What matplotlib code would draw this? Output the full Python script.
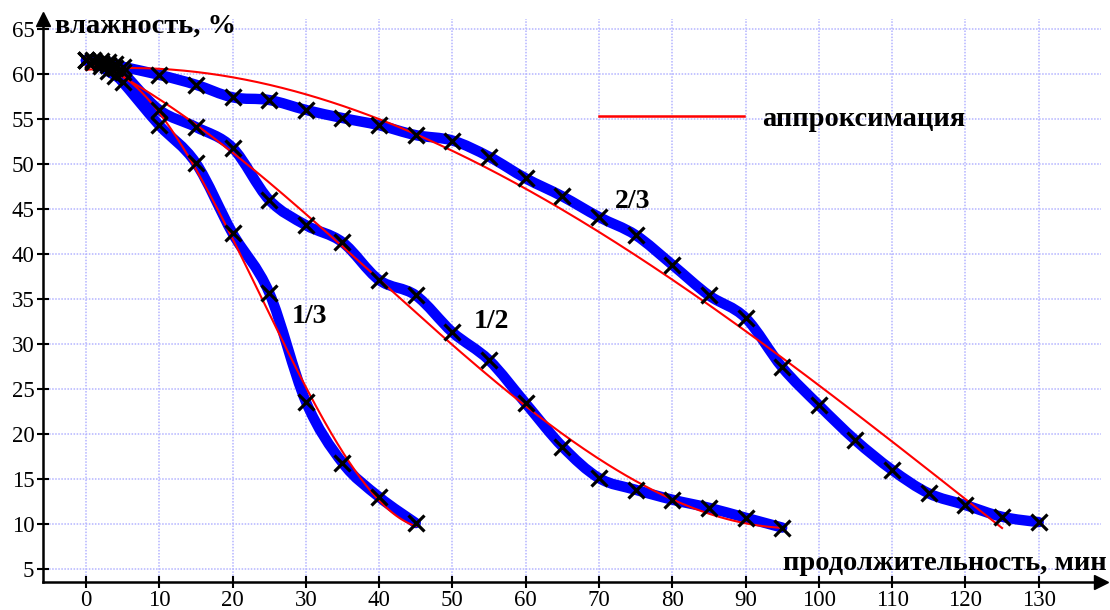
import numpy as np
import matplotlib.pyplot as plt
from matplotlib.path import Path
from matplotlib.patches import PathPatch
from matplotlib.lines import Line2D

plt.rcParams['font.family'] = ['Liberation Serif', 'DejaVu Serif']

# drying time, min / moisture, %  (three load fractions)
t_13 = [0, 1, 2, 3, 4, 5, 10, 15, 20, 25, 30, 35, 40, 45]
w_13 = [61.5, 61.3, 60.9, 60.3, 59.8, 59.1, 54.3, 50.1, 42.3, 35.7, 23.6, 16.8, 13.0, 10.1]

t_12 = [0, 1, 2, 3, 4, 5, 10, 15, 20, 25, 30, 35, 40, 45, 50, 55, 60, 65, 70,
        75, 80, 85, 90, 95]
w_12 = [61.5, 61.4, 61.2, 61.0, 60.7, 60.2, 56.0, 54.1, 51.8, 46.0, 43.2, 41.3,
        37.1, 35.4, 31.3, 28.2, 23.4, 18.6, 15.1, 13.8, 12.7, 11.8, 10.7, 9.6]

t_23 = [0, 1, 2, 3, 4, 5, 10, 15, 20, 25, 30, 35, 40, 45, 50, 55, 60, 65, 70,
        75, 80, 85, 90, 95, 100, 105, 110, 115, 120, 125, 130]
w_23 = [61.5, 61.5, 61.4, 61.3, 61.1, 60.8, 59.9, 58.8, 57.4, 57.1, 56.0, 55.1,
        54.3, 53.2, 52.6, 50.8, 48.4, 46.4, 44.1, 42.1, 38.8, 35.4, 32.9, 27.4,
        23.2, 19.3, 16.0, 13.4, 12.1, 10.8, 10.2]

series = [(t_13, w_13, '1/3'), (t_12, w_12, '1/2'), (t_23, w_23, '2/3')]
approx_end = [45, 95, 125]
label_pos = [(30.5, 33.0), (55.4, 32.5), (74.6, 45.8)]

x_ticks = np.arange(0, 140, 10)
y_ticks = np.arange(5, 70, 5)


def smooth_path(x, y):
    # catmull-rom through the measured points, drawn as bezier
    p = np.column_stack([x, y]).astype(float)
    ext = np.vstack([p[0], p, p[-1]])
    verts = [p[0]]
    codes = [Path.MOVETO]
    for i in range(len(p) - 1):
        a, b, c, d = ext[i], ext[i + 1], ext[i + 2], ext[i + 3]
        verts += [b + (c - a) / 6, c - (d - b) / 6, c]
        codes += [Path.CURVE4] * 3
    return Path(verts, codes)


W, H = 1110, 610
fig = plt.figure(figsize=(W / 100, H / 100), dpi=100)
ax = fig.add_axes([42.7 / W, (H - 582.3) / H, (1101 - 42.7) / W, (582.3 - 19) / H])
ax.set_xlim(-5.9, 138.5)
ax.set_ylim(3.52, 66.1)

for (t, w, name), t_end, pos in zip(series, approx_end, label_pos):
    ax.add_patch(PathPatch(smooth_path(t, w), facecolor='none', edgecolor='#0000ff',
                           lw=7.5, capstyle='round', joinstyle='round', zorder=2))
    coef = np.polyfit(t, w, 3)
    tt = np.linspace(0, t_end, 300)
    ax.plot(tt, np.polyval(coef, tt), color='#ff0000', lw=1.5, zorder=3)
    ax.plot(t, w, linestyle='none', marker='x', color='black', ms=12, mew=2.3, zorder=4)
    ax.text(pos[0], pos[1], name, fontsize=20, fontweight='bold', ha='center', va='center')

ax.set_xticks(x_ticks)
ax.set_yticks(y_ticks)
ax.tick_params(direction='inout', length=8, width=1.5, labelsize=16.5)
ax.tick_params(axis='x', pad=1.5)
ax.tick_params(axis='y', pad=2)
ax.set_axisbelow(True)
ax.grid(color='#b4b4ff', linestyle=(0, (1, 1)), linewidth=1.1)

for s in ['top', 'right']:
    ax.spines[s].set_visible(False)
for s in ['left', 'bottom']:
    ax.spines[s].set_linewidth(1.8)
ax.plot(1, 0, '>k', ms=10, transform=ax.transAxes, clip_on=False)
ax.plot(0, 1, '^k', ms=10, transform=ax.transAxes, clip_on=False)

ax.text(-4.2, 64.55, 'влажность, %', fontsize=20.5, fontweight='bold',
        ha='left', va='baseline')
ax.text(139.3, 4.9, 'продолжительность, мин', fontsize=20.5, fontweight='bold',
        ha='right', va='baseline', clip_on=False)

handle = Line2D([], [], color='#ff0000', lw=1.8)
ax.legend([handle], ['аппроксимация'], loc='center left', bbox_to_anchor=(70, 55),
          bbox_transform=ax.transData, frameon=False, borderpad=0, borderaxespad=0,
          handlelength=5.1, handletextpad=0.63,
          prop=dict(family='Liberation Serif', weight='bold', size=20.5))

fig.savefig('out.png', dpi=100)
